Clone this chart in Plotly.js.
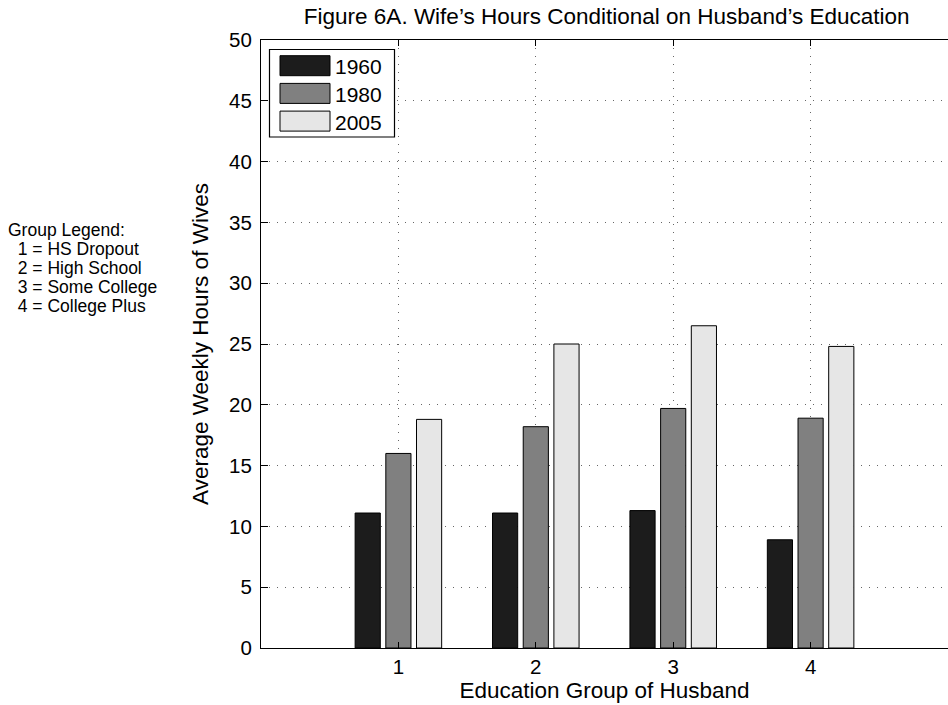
<!DOCTYPE html>
<html>
<head>
<meta charset="utf-8">
<script src="https://cdn.plot.ly/plotly-3.0.1.min.js"></script>
<style>
html,body{margin:0;padding:0;overflow:hidden;background:#fff;}
#chart{width:948px;height:705px;}
</style>
</head>
<body>
<div id="chart"></div>
<script>
// Data
var groups = [1, 2, 3, 4];
var seriesNames = ['1960', '1980', '2005'];
var hours1960 = [11.1, 11.1, 11.3, 8.9];
var hours1980 = [16.0, 18.2, 19.7, 18.9];
var hours2005 = [18.8, 25.0, 26.5, 24.8];
var seriesColors = ['#1c1c1c', '#808080', '#e6e6e6'];
var groupLegendLines = ['Group Legend:', '  1 = HS Dropout', '  2 = High School', '  3 = Some College', '  4 = College Plus'];
var yTicks = [0, 5, 10, 15, 20, 25, 30, 35, 40, 45, 50];

var seriesValues = [hours1960, hours1980, hours2005];
var traces = seriesNames.map(function (name, i) {
  return {
    type: 'bar',
    name: name,
    x: groups,
    y: seriesValues[i],
    marker: {color: seriesColors[i], line: {color: '#000', width: 1}},
    showlegend: false,
    hoverinfo: 'x+y+name'
  };
});

var FONT = 'Liberation Sans, Arial, Helvetica, sans-serif';

// custom legend (box + swatches + labels), in paper coords
var PW = 687, PH = 608; // plot area px
function px(x) { return (x - 261) / PW; }
function py(y) { return (648 - y) / PH; }

var shapes = [{
  type: 'rect', xref: 'paper', yref: 'paper',
  x0: px(269.5), x1: px(394.5), y0: py(137), y1: py(49.5),
  line: {color: '#000', width: 1.2}, fillcolor: '#fff', layer: 'above'
}];
var annotations = [];
seriesNames.forEach(function (name, i) {
  var cy = 65.7 + i * 27.7;
  shapes.push({
    type: 'rect', xref: 'paper', yref: 'paper',
    x0: px(280), x1: px(330), y0: py(cy + 10), y1: py(cy - 10),
    line: {color: '#000', width: 1}, fillcolor: seriesColors[i], layer: 'above'
  });
  annotations.push({
    xref: 'paper', yref: 'paper', x: px(333), y: py(cy + 1),
    xanchor: 'left', yanchor: 'middle', showarrow: false,
    text: name, font: {family: FONT, size: 21, color: '#000'}
  });
});

groupLegendLines.forEach(function (line, k) {
  annotations.push({
    xref: 'paper', yref: 'paper', x: px(6), y: py(229.5 + 19 * k),
    xanchor: 'left', yanchor: 'middle', align: 'left', showarrow: false,
    text: line.replace(/ /g, '&nbsp;'),
    font: {family: FONT, size: 17.5, color: '#000'}
  });
});

var layout = {
  width: 948, height: 705,
  margin: {l: 261, r: 0, t: 40, b: 57, pad: 0},
  paper_bgcolor: '#fff', plot_bgcolor: '#fff',
  title: {
    text: 'Figure 6A. Wife\u2019s Hours Conditional on Husband\u2019s Education',
    font: {family: FONT, size: 22.5, color: '#000'},
    x: 0.64, xanchor: 'center', yref: 'container', y: 0.977, yanchor: 'middle'
  },
  barmode: 'group', bargap: 0.33, bargroupgap: 0.18,
  xaxis: {
    range: [0, 5], tickvals: groups, ticktext: groups.map(String),
    ticks: 'inside', ticklen: 6, tickcolor: '#000',
    showline: true, linecolor: '#000', linewidth: 1, mirror: 'ticks',
    showgrid: true, gridcolor: '#666', griddash: '1px,7px', gridwidth: 1,
    zeroline: false,
    tickfont: {family: FONT, size: 20.5, color: '#000'},
    title: {text: 'Education Group of Husband', font: {family: FONT, size: 22.5, color: '#000'}, standoff: 0}
  },
  yaxis: {
    range: [0, 50], tickvals: yTicks,
    ticks: 'inside', ticklen: 7, tickcolor: '#000',
    showline: true, linecolor: '#000', linewidth: 1, mirror: false,
    showgrid: true, gridcolor: '#666', griddash: '1px,7px', gridwidth: 1,
    zeroline: false,
    ticklabelstandoff: 4,
    tickfont: {family: FONT, size: 20.5, color: '#000'},
    title: {text: 'Average Weekly Hours of Wives', font: {family: FONT, size: 22.5, color: '#000'}, standoff: 14}
  },
  shapes: shapes,
  annotations: annotations,
  showlegend: false
};

Plotly.newPlot('chart', traces, layout, {staticPlot: true, displayModeBar: false});
</script>
</body>
</html>
